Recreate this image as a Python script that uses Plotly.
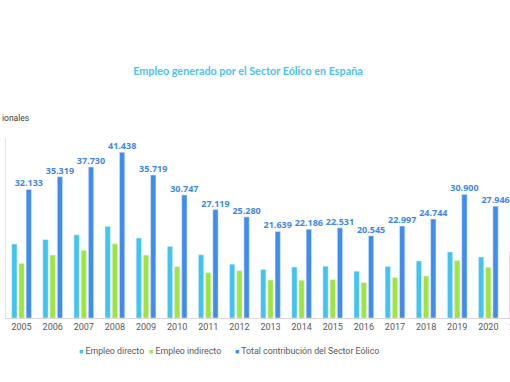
import plotly.graph_objects as go

years = ["2005", "2006", "2007", "2008", "2009", "2010", "2011", "2012", "2013",
         "2014", "2015", "2016", "2017", "2018", "2019", "2020", "2021"]
empleo_directo = [18500, 19600, 20800, 22900, 20000, 17900, 15800, 13450, 12150,
                  12750, 12950, 11700, 12900, 14250, 16500, 15250, 16700]
empleo_indirecto = [13633, 15719, 16930, 18538, 15719, 12847, 11319, 11830, 9489,
                    9436, 9581, 8845, 10097, 10494, 14400, 12696, 13500]
total = [32133, 35319, 37730, 41438, 35719, 30747, 27119, 25280, 21639,
         22186, 22531, 20545, 22997, 24744, 30900, 27946, 30200]

names = ["Empleo directo", "Empleo indirecto", "Total contribución del Sector Eólico"]
colors = ["#40c4f4", "#9ee53c", "#3f8def"]

W, H = 540, 382
ML, MR, MT, MB = 6, 5, 138, 64
PW = W - ML - MR
PH = H - MT - MB

fig = go.Figure()
fig.add_trace(go.Bar(x=years, y=empleo_directo, name=names[0],
                     marker_color=colors[0], showlegend=False))
fig.add_trace(go.Bar(x=years, y=empleo_indirecto, name=names[1],
                     marker_color=colors[1], showlegend=False))
fig.add_trace(go.Bar(x=years, y=total, name=names[2],
                     marker_color=colors[2], showlegend=False,
                     text=total, texttemplate="%{y:,}",
                     textposition="outside", textangle=0, constraintext="none",
                     cliponaxis=False,
                     textfont=dict(family="Open Sans", size=9, color="#3f88e8",
                                   weight="bold")))

# legend drawn as text entries, placed like the reference's compact legend
legend_left_px = [77, 147, 233]
annotations = []
for name, col, px in zip(names, colors, legend_left_px):
    annotations.append(dict(
        text=f'<span style="color:{col};font-size:7px">■</span> {name}',
        xref="paper", yref="paper", x=(px - ML) / PW, xanchor="left",
        y=-(351 - (MT + PH)) / PH,
        yanchor="middle", showarrow=False,
        font=dict(family="Roboto", size=8.8, color="#595959")))

annotations.append(dict(text="ionales", xref="paper", yref="paper",
                        x=(0 - ML) / PW, xanchor="left",
                        y=1 + (MT - 118) / PH, yanchor="middle",
                        showarrow=False,
                        font=dict(family="Roboto", size=8.5, color="#404040")))

fig.update_layout(
    width=W, height=H, autosize=False,
    margin=dict(l=ML, r=MR, t=MT, b=MB),
    paper_bgcolor="white", plot_bgcolor="white",
    separators=",.",
    barmode="group", bargap=0.305, bargroupgap=0.27,
    title=dict(text="<b>Empleo generado por el Sector Eólico en España</b>",
               x=248 / W, xref="container", xanchor="center",
               y=1 - 71 / H, yref="container", yanchor="middle",
               font=dict(family="Lato", size=10.8, color="#4cc2f0")),
    xaxis=dict(range=[-0.5, 16.5], showline=True, linecolor="#d9d9d9",
               linewidth=1, ticks="", showgrid=False, automargin=False,
               tickfont=dict(family="Roboto", size=9, color="#595959")),
    yaxis=dict(range=[0, 45000], showline=True, linecolor="#e6e6e6",
               showticklabels=False, showgrid=False, zeroline=False, ticks="",
               automargin=False),
    showlegend=False,
    annotations=annotations,
)

fig.write_html(
    "out.html",
    config={"displayModeBar": False},
    post_script="document.body.style.margin='0';document.body.style.overflow='hidden';"
                "document.documentElement.style.overflow='hidden';",
)
